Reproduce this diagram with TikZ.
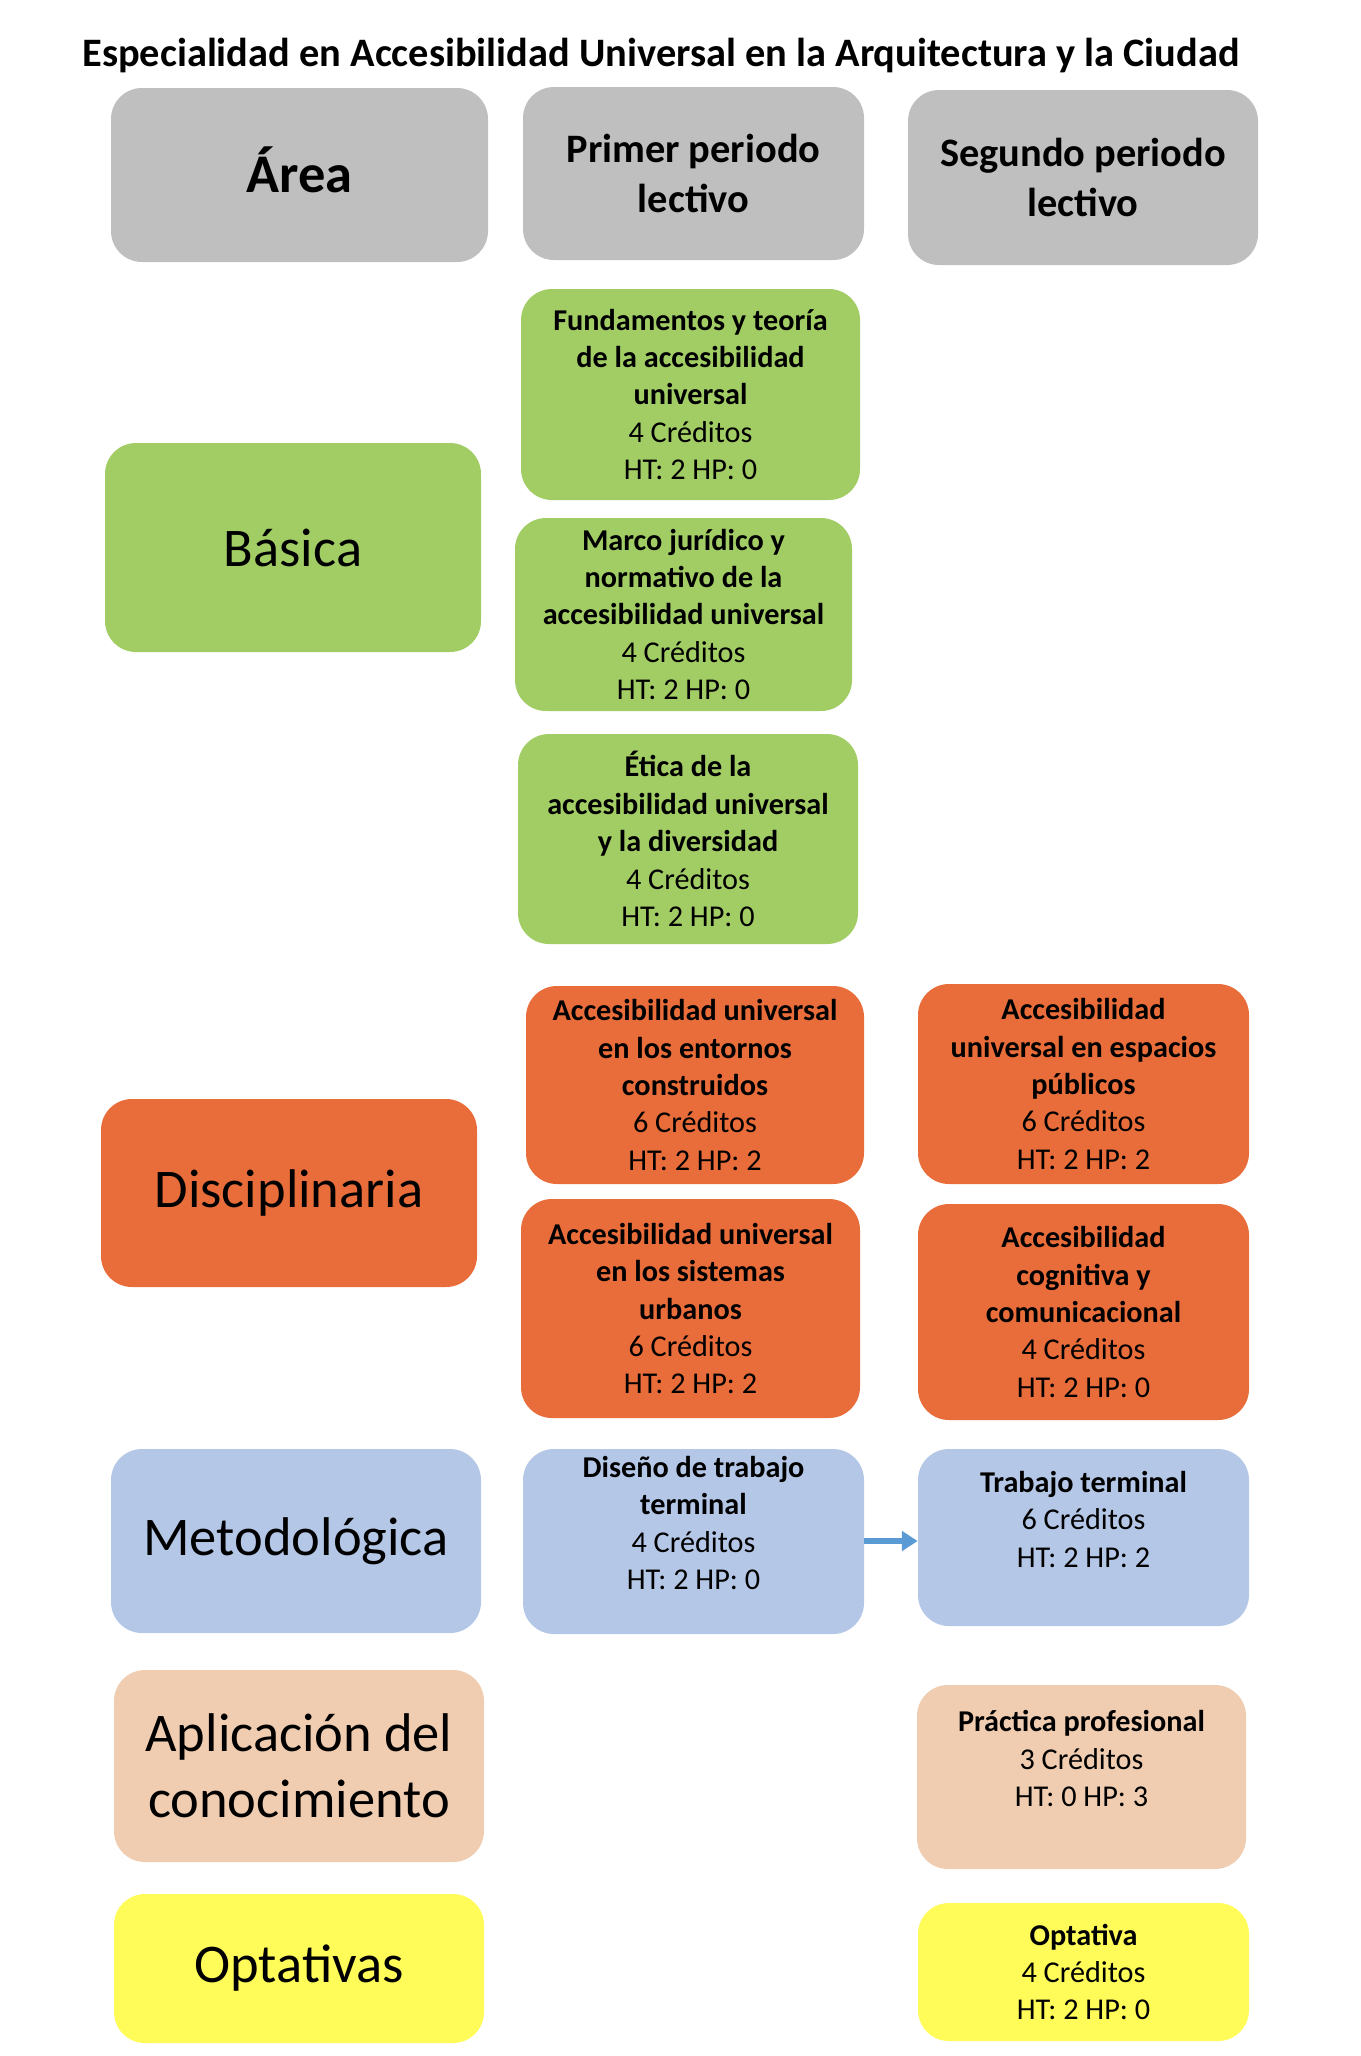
\documentclass[tikz,border=0pt]{standalone}
\usepackage{fontspec}
\setmainfont{Carlito}
\usepackage{tikz}
\usetikzlibrary{arrows.meta,positioning}
\definecolor{gris}{HTML}{BFBFBF}
\definecolor{verde}{HTML}{A2CD64}
\definecolor{naranja}{HTML}{E96D3A}
\definecolor{azul}{HTML}{B5C7E6}
\definecolor{durazno}{HTML}{F0CDB0}
\definecolor{amarillo}{HTML}{FFFB58}
\definecolor{flecha}{HTML}{5B9BD5}

\begin{document}
\begin{tikzpicture}[
    x=0.02cm, y=-0.02cm,
    caja/.style={rectangle, rounded corners=0.62cm, align=center, inner sep=2pt},
    hdr/.style={caja, fill=gris, font=\fontsize{23}{28.5}\selectfont\bfseries},
    area/.style={caja, font=\fontsize{31}{37.8}\selectfont},
    curso/.style={caja, font=\fontsize{17.2}{21.3}\selectfont},
    alto/.style={text depth=21pt},
    title/.style={font=\fontsize{23}{28}\selectfont\bfseries},
    arrow/.style={-{Triangle[length=9pt,width=11pt]}, line width=3.5pt, flecha}
  ]
  \useasboundingbox (0,0) rectangle (1360,2056);

  % --- title and headers ---
  \node[title] (titulo) at (661,55) {Especialidad en Accesibilidad Universal en la Arquitectura y la Ciudad};
  \node[hdr, minimum width=377*0.02cm, minimum height=174*0.02cm, text depth=6pt,
        font=\fontsize{31}{37.8}\selectfont\bfseries] (harea) at (299.5,175) {Área};
  \node[hdr, minimum width=341*0.02cm, minimum height=173*0.02cm] (hprim) at (693.5,173.5) {Primer periodo\\lectivo};
  \node[hdr, minimum width=350*0.02cm, minimum height=175*0.02cm] (hseg) at (1083,177.5) {Segundo periodo\\lectivo};

  % --- areas ---
  \node[area, fill=verde, minimum width=376*0.02cm, minimum height=209*0.02cm] (basica) at (293,547.5) {Básica};
  \node[area, fill=naranja, minimum width=376*0.02cm, minimum height=188*0.02cm] (disc) at (289,1193) {Disciplinaria};
  \node[area, fill=azul, minimum width=370*0.02cm, minimum height=184*0.02cm] (metod) at (296,1541) {Metodológica};
  \node[area, fill=durazno, minimum width=370*0.02cm, minimum height=192*0.02cm] (aplic) at (299,1766) {Aplicación del\\conocimiento};
  \node[area, fill=amarillo, minimum width=370*0.02cm, minimum height=149*0.02cm] (optat) at (299,1968.5) {Optativas};

  % --- primer periodo ---
  \node[curso, fill=verde, minimum width=339*0.02cm, minimum height=211*0.02cm] (fund) at (690.5,394.5)
    {\textbf{Fundamentos y teoría}\\\textbf{de la accesibilidad}\\\textbf{universal}\\4 Créditos\\HT: 2 HP: 0};
  \node[curso, fill=verde, minimum width=337*0.02cm, minimum height=193*0.02cm] (marco) at (683.5,614.5)
    {\textbf{Marco jurídico y}\\\textbf{normativo de la}\\\textbf{accesibilidad universal}\\4 Créditos\\HT: 2 HP: 0};
  \node[curso, fill=verde, minimum width=340*0.02cm, minimum height=210*0.02cm] (etica) at (688,839)
    {\textbf{Ética de la}\\\textbf{accesibilidad universal}\\\textbf{y la diversidad}\\4 Créditos\\HT: 2 HP: 0};
  \node[curso, fill=naranja, minimum width=338*0.02cm, minimum height=198*0.02cm] (entor) at (695,1085)
    {\textbf{Accesibilidad universal}\\\textbf{en los entornos}\\\textbf{construidos}\\6 Créditos\\HT: 2 HP: 2};
  \node[curso, fill=naranja, minimum width=339*0.02cm, minimum height=219*0.02cm] (sist) at (690.5,1308.5)
    {\textbf{Accesibilidad universal}\\\textbf{en los sistemas}\\\textbf{urbanos}\\6 Créditos\\HT: 2 HP: 2};
  \node[curso, alto, fill=azul, minimum width=341*0.02cm, minimum height=185*0.02cm] (diseno) at (693.5,1541.5)
    {\textbf{Diseño de trabajo}\\\textbf{terminal}\\4 Créditos\\HT: 2 HP: 0};

  % --- segundo periodo ---
  \node[curso, fill=naranja, minimum width=331*0.02cm, minimum height=200*0.02cm] (espac) at (1083.5,1084)
    {\textbf{Accesibilidad}\\\textbf{universal en espacios}\\\textbf{públicos}\\6 Créditos\\HT: 2 HP: 2};
  \node[curso, fill=naranja, minimum width=331*0.02cm, minimum height=216*0.02cm] (cogn) at (1083.5,1312)
    {\textbf{Accesibilidad}\\\textbf{cognitiva y}\\\textbf{comunicacional}\\4 Créditos\\HT: 2 HP: 0};
  \node[curso, alto, fill=azul, minimum width=331*0.02cm, minimum height=177*0.02cm] (trab) at (1083.5,1537.5)
    {\textbf{Trabajo terminal}\\6 Créditos\\HT: 2 HP: 2};
  \node[curso, alto, fill=durazno, minimum width=329*0.02cm, minimum height=184*0.02cm] (pract) at (1081.5,1777)
    {\textbf{Práctica profesional}\\3 Créditos\\HT: 0 HP: 3};
  \node[curso, fill=amarillo, minimum width=331*0.02cm, minimum height=138*0.02cm] (opt) at (1083.5,1972)
    {\textbf{Optativa}\\4 Créditos\\HT: 2 HP: 0};

  % Seriation arrow
  \draw[arrow] (diseno.east |- 0,1541) -- (trab.west |- 0,1541);
\end{tikzpicture}
\end{document}
